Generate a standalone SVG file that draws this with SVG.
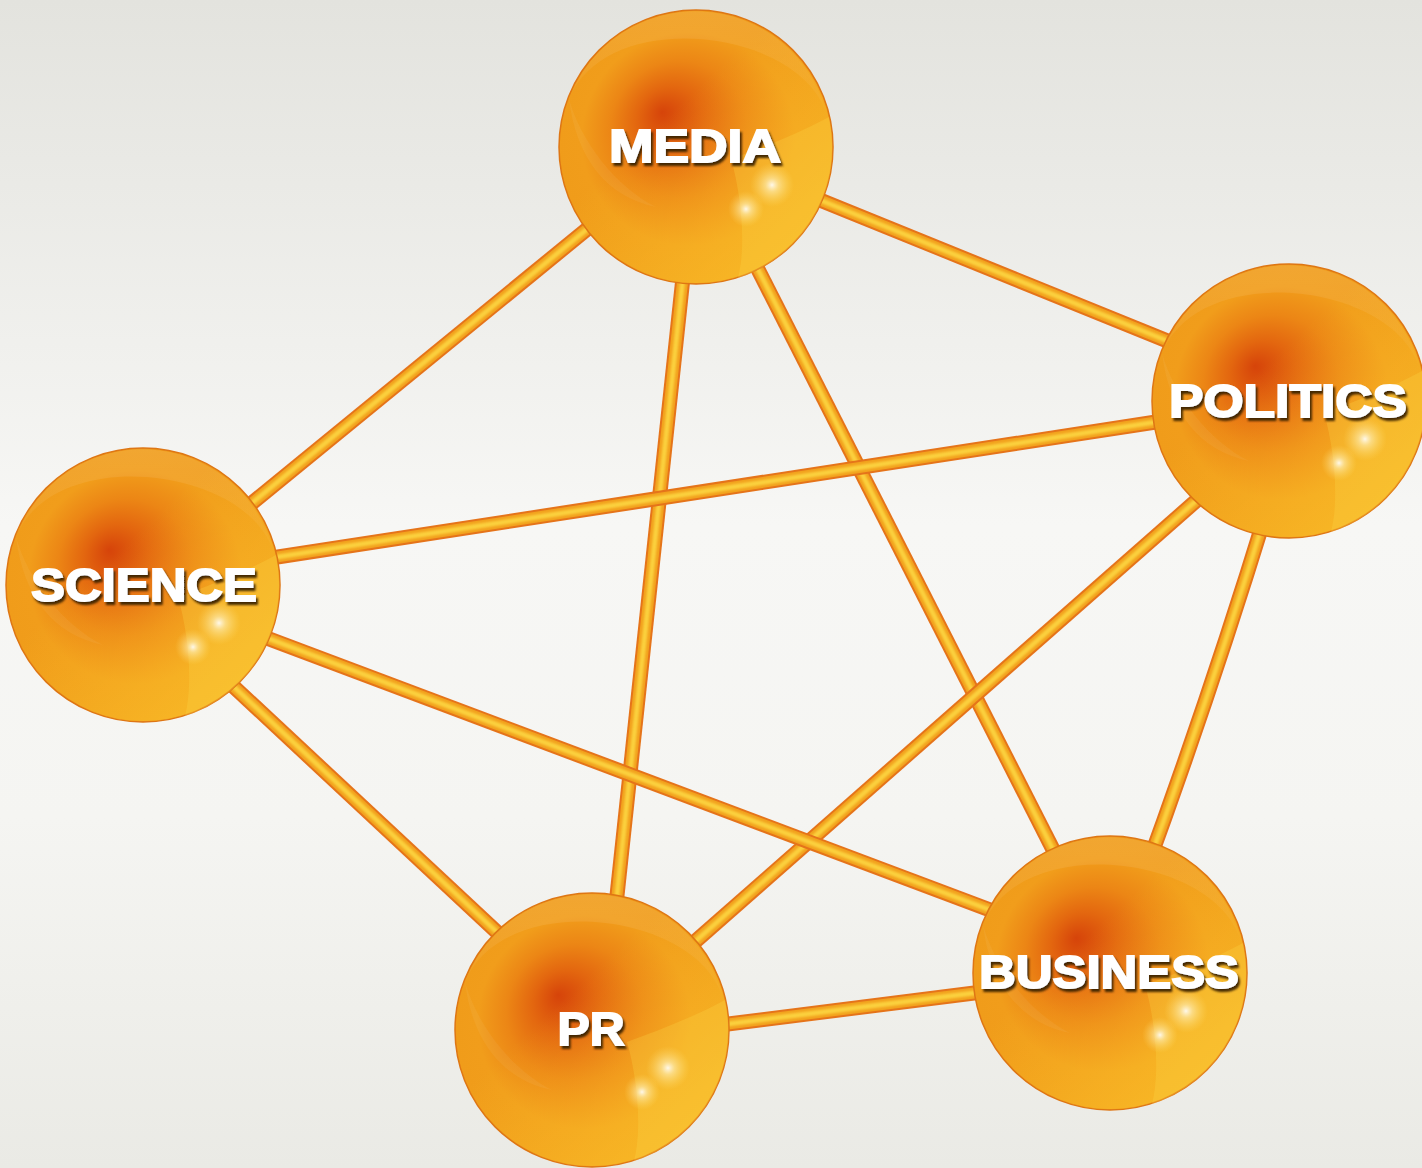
<svg xmlns="http://www.w3.org/2000/svg" xmlns:xlink="http://www.w3.org/1999/xlink" width="1422" height="1168" viewBox="0 0 1422 1168">
<style>
.t1{fill:none;stroke:#e5741a;stroke-width:15;stroke-linecap:butt}
.t2{fill:none;stroke:#f2a21e;stroke-width:11}
.t3{fill:none;stroke:#fbd03c;stroke-width:5;filter:url(#soft)}
.lbl{font-family:"Liberation Sans",Arial,sans-serif;font-weight:bold;font-size:47px;text-anchor:middle;fill:#ffffff;stroke:#ffffff;stroke-width:1.8;filter:url(#ds)}
</style>
<defs>
<linearGradient id="bg" x1="0" y1="0" x2="0" y2="1">
<stop offset="0" stop-color="#e3e3de"/>
<stop offset="0.45" stop-color="#f7f7f5"/>
<stop offset="0.7" stop-color="#f5f5f2"/>
<stop offset="1" stop-color="#eaeae5"/>
</linearGradient>
<radialGradient id="base" gradientUnits="userSpaceOnUse" cx="0" cy="0" r="137" fx="-34" fy="-35">
<stop offset="0" stop-color="#d6440a"/>
<stop offset="0.24" stop-color="#e3660f"/>
<stop offset="0.5" stop-color="#ec8615"/>
<stop offset="0.78" stop-color="#f19d1b"/>
<stop offset="1" stop-color="#f09c1a"/>
</radialGradient>
<linearGradient id="warm" gradientUnits="userSpaceOnUse" x1="-20" y1="-40" x2="110" y2="100">
<stop offset="0" stop-color="#ffcf30" stop-opacity="0"/>
<stop offset="1" stop-color="#ffd030" stop-opacity="0.55"/>
</linearGradient>
<linearGradient id="gloss" gradientUnits="userSpaceOnUse" x1="0" y1="-135" x2="0" y2="-40">
<stop offset="0" stop-color="#ffffff" stop-opacity="0.1"/>
<stop offset="1" stop-color="#ffffff" stop-opacity="0.03"/>
</linearGradient>
<radialGradient id="spark">
<stop offset="0" stop-color="#ffffff" stop-opacity="0.9"/>
<stop offset="0.3" stop-color="#fff6c8" stop-opacity="0.55"/>
<stop offset="1" stop-color="#ffe070" stop-opacity="0"/>
</radialGradient>
<filter id="ds" x="-10%" y="-30%" width="125%" height="170%"><feDropShadow dx="2" dy="3" stdDeviation="1.3" flood-color="#3c2204" flood-opacity="0.95"/></filter>
<filter id="soft"><feGaussianBlur stdDeviation="1"/></filter>
<g id="orb">
<circle r="137" fill="url(#base)" stroke="#de7614" stroke-width="1.5"/>
<circle r="136" fill="url(#warm)"/>
<path d="M -127,-48 A 135 135 0 0 1 130,-35 C 100,-120 -90,-140 -127,-48 Z" fill="url(#gloss)"/>
<path d="M -127,-48 C -115,-5 -80,40 -40,60 C -90,50 -120,10 -127,-48 Z" fill="#ffffff" fill-opacity="0.05"/>
<path d="M 35,12 C 46,50 50,100 42,131 A 137 137 0 0 0 133,-30 C 100,-12 62,2 35,12 Z" fill="#fcd848" fill-opacity="0.28"/>
<circle cx="76" cy="38" r="22" fill="url(#spark)"/>
<circle cx="50" cy="62" r="18" fill="url(#spark)"/>
</g>
</defs>
<rect width="1422" height="1168" fill="url(#bg)"/>
<g id="connectors">
<path class="t1" d="M619,203 L219,530"/><path class="t2" d="M619,203 L219,530"/><path class="t3" d="M619,203 L219,530"/>
<path class="t1" d="M783,185 L1202,355"/><path class="t2" d="M783,185 L1202,355"/><path class="t3" d="M783,185 L1202,355"/>
<path class="t1" d="M687,240 L613,933"/><path class="t2" d="M687,240 L613,933"/><path class="t3" d="M687,240 L613,933"/>
<path class="t1" d="M739,232 L1068,879"/><path class="t2" d="M739,232 L1068,879"/><path class="t3" d="M739,232 L1068,879"/>
<path class="t1" d="M1195,416 L238,563"/><path class="t2" d="M1195,416 L238,563"/><path class="t3" d="M1195,416 L238,563"/>
<path class="t1" d="M1230,471 L665,968"/><path class="t2" d="M1230,471 L665,968"/><path class="t3" d="M1230,471 L665,968"/>
<path class="t1" d="M1270,500 Q1212,690 1143,878"/><path class="t2" d="M1270,500 Q1212,690 1143,878"/><path class="t3" d="M1270,500 Q1212,690 1143,878"/>
<path class="t1" d="M203,658 L529,962"/><path class="t2" d="M203,658 L529,962"/><path class="t3" d="M203,658 L529,962"/>
<path class="t1" d="M235,626 L1022,922"/><path class="t2" d="M235,626 L1022,922"/><path class="t3" d="M235,626 L1022,922"/>
<path class="t1" d="M688,1029 L1014,988"/><path class="t2" d="M688,1029 L1014,988"/><path class="t3" d="M688,1029 L1014,988"/>
</g>
<g id="node-media">
<use xlink:href="#orb" href="#orb" transform="translate(696,147)"/>
<text class="lbl" x="695" y="162" textLength="172" lengthAdjust="spacingAndGlyphs">MEDIA</text>
</g>
<g id="node-politics">
<use xlink:href="#orb" href="#orb" transform="translate(1289,401)"/>
<text class="lbl" x="1288" y="417" textLength="238" lengthAdjust="spacingAndGlyphs">POLITICS</text>
</g>
<g id="node-science">
<use xlink:href="#orb" href="#orb" transform="translate(143,585)"/>
<text class="lbl" x="144" y="601" textLength="226" lengthAdjust="spacingAndGlyphs">SCIENCE</text>
</g>
<g id="node-pr">
<use xlink:href="#orb" href="#orb" transform="translate(592,1030)"/>
<text class="lbl" x="591" y="1045" textLength="67" lengthAdjust="spacingAndGlyphs">PR</text>
</g>
<g id="node-business">
<use xlink:href="#orb" href="#orb" transform="translate(1110,973)"/>
<text class="lbl" x="1109" y="988" textLength="260" lengthAdjust="spacingAndGlyphs">BUSINESS</text>
</g>
</svg>
